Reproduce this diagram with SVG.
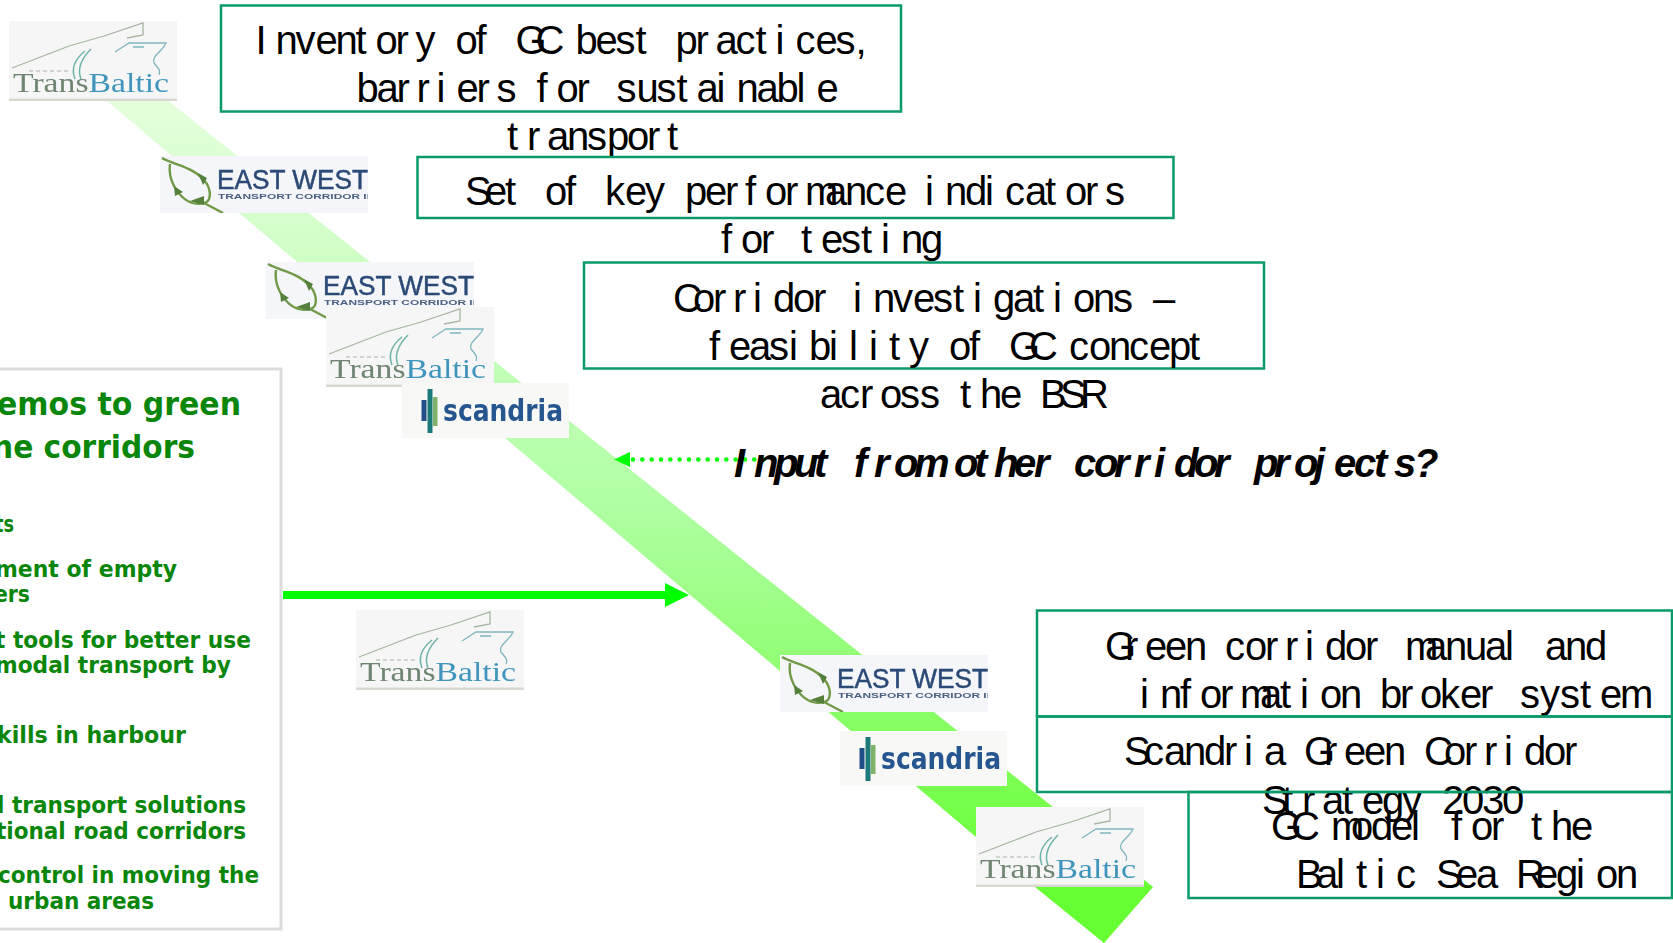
<svg xmlns="http://www.w3.org/2000/svg" width="1673" height="943" viewBox="0 0 1673 943">
<style>
.box{fill:none;stroke:#0a9a6c;stroke-width:2.5}
.t{font-family:"Liberation Sans Narrow","Liberation Sans",sans-serif;font-size:40px;fill:#000}
.ti{font-family:"Liberation Sans Narrow","Liberation Sans",sans-serif;font-size:40px;fill:#000;font-weight:bold;font-style:italic}
.h{font-family:"DejaVu Sans",sans-serif;font-weight:bold;font-size:32px;fill:#0a860a}
.s{font-family:"DejaVu Sans",sans-serif;font-weight:bold;font-size:23px;fill:#0a860a}
.tb{font-family:"Liberation Serif",serif;font-size:28px;stroke-width:.3}
.ew1{font-family:"Liberation Sans",sans-serif;font-size:27px;fill:#2c4a76;stroke:#2c4a76;stroke-width:.5}
.ew2{font-family:"Liberation Sans",sans-serif;font-size:7.5px;font-weight:bold;fill:#4a5f80}
.sc{font-family:"DejaVu Sans",sans-serif;font-size:30px;font-weight:bold;fill:#27568f}
.logo{filter:url(#soft)}
</style>
<defs>
<filter id="soft" x="0" y="0" width="100%" height="100%"><feGaussianBlur stdDeviation="0.45"/></filter>
<linearGradient id="bandFill" gradientUnits="userSpaceOnUse" x1="0" y1="100" x2="0" y2="890">
<stop offset="0" stop-color="#e4ffdc"/><stop offset="0.5" stop-color="#b2ffa6"/><stop offset="1" stop-color="#66ff33"/>
</linearGradient>
<g id="tbArt">
<rect width="168" height="80" fill="#f6f6f7"/>
<rect y="77.500" width="168" height="2.500" fill="#d9d9d2"/>
<path d="M3 47 L60 25 L95 15 L134 2 L134 14 L118 17" fill="none" stroke="#a7b5a2" stroke-width="1.300"/>
<path d="M106 31 L120 22 L157 22 C154 30 142 35 145 42 C150 48 152 50 150 54 M124 26 L135 26" fill="none" stroke="#7fb7bd" stroke-width="1.300"/>
<path d="M76 30 C66 38 62 48 66 58 M82 28 C72 38 68 48 72 58" fill="none" stroke="#6fb3a8" stroke-width="1.500"/>
<path d="M20 50 L60 50" fill="none" stroke="#a7b5a2" stroke-width="1" stroke-dasharray="4 3"/>
</g>
<g id="ewArt">
<rect width="208" height="57" fill="#f4f6f9"/>
<path d="M2 2 C16 10 34 10 47 28 C52 38 50 46 44 47 C32 50 22 44 14 30 C10 22 9 14 10 8 M44 47 L63 57" fill="none" stroke="#6f9a45" stroke-width="2.400"/>
<path d="M14 30 L23 36 L15 40 Z M38 17 L47 22 L43 29 Z M30 45 L44 40 L44 49 Z" fill="#55803a"/>
</g>
<g id="scArt">
<rect width="167" height="55" fill="#f8f8f6"/>
<rect x="19.500" y="17" width="5" height="21" fill="#24508a"/>
<rect x="25.500" y="6" width="5" height="44" fill="#1f7a78"/>
<rect x="31" y="14" width="4.500" height="29" fill="#7fb26a"/>
</g>
<clipPath id="ewClip"><rect width="208" height="57"/></clipPath>
</defs>

<g id="connectors">
<polygon id="corridor-band" points="100,95 161,95 1153,887 1104,943 1035,887" fill="url(#bandFill)"/>
<path d="M283 595H666" fill="none" stroke="#00ff00" stroke-width="8"/>
<polygon points="665,583 689,595 665,607" fill="#00ff00"/>
<path d="M633 459.500H768" fill="none" stroke="#00ff00" stroke-width="4.600" stroke-linecap="round" stroke-dasharray="0 9.330"/>
<polygon points="614,459.500 630,452 630,467" fill="#00ff00"/>
</g>

<g id="panel">
<rect x="-6" y="369" width="287" height="560" fill="#fff" stroke="#dcdcdc" stroke-width="3"/>
<text class="h" x="-3" y="415" textLength="244" lengthAdjust="spacingAndGlyphs">emos to green</text>
<text class="h" x="-8" y="458" textLength="203" lengthAdjust="spacingAndGlyphs">ne corridors</text>
<text class="s" x="-5" y="532" textLength="19" lengthAdjust="spacingAndGlyphs">ts</text>
<text class="s" x="-5" y="577" textLength="182" lengthAdjust="spacingAndGlyphs">ment of empty</text>
<text class="s" x="-6" y="602" textLength="36" lengthAdjust="spacingAndGlyphs">ers</text>
<text class="s" x="-5" y="648" textLength="256" lengthAdjust="spacingAndGlyphs">t tools for better use</text>
<text class="s" x="-5" y="673" textLength="236" lengthAdjust="spacingAndGlyphs">modal transport by</text>
<text class="s" x="-3" y="743" textLength="189" lengthAdjust="spacingAndGlyphs">kills in harbour</text>
<text class="s" x="-3" y="813" textLength="249" lengthAdjust="spacingAndGlyphs">l transport solutions</text>
<text class="s" x="-4" y="839" textLength="250" lengthAdjust="spacingAndGlyphs">tional road corridors</text>
<text class="s" x="-2" y="883" textLength="261" lengthAdjust="spacingAndGlyphs">control in moving the</text>
<text class="s" x="8" y="909" textLength="146" lengthAdjust="spacingAndGlyphs">urban areas</text>
</g>

<g id="logo-transbaltic-1" class="logo" transform="translate(9,21)"><use href="#tbArt"/><text class="tb" x="4" y="71" textLength="156" lengthAdjust="spacingAndGlyphs"><tspan fill="#6f8672">Trans</tspan><tspan fill="#3f95bc">Baltic</tspan></text></g>
<g id="logo-eastwest-1" class="logo" transform="translate(160,156)"><use href="#ewArt"/><g clip-path="url(#ewClip)"><text class="ew1" x="57" y="33" textLength="151" lengthAdjust="spacingAndGlyphs">EAST WEST</text><text class="ew2" x="58" y="43" textLength="152" lengthAdjust="spacingAndGlyphs">TRANSPORT CORRIDOR II</text></g></g>
<g id="logo-eastwest-2" class="logo" transform="translate(266,262)"><use href="#ewArt"/><g clip-path="url(#ewClip)"><text class="ew1" x="57" y="33" textLength="151" lengthAdjust="spacingAndGlyphs">EAST WEST</text><text class="ew2" x="58" y="43" textLength="152" lengthAdjust="spacingAndGlyphs">TRANSPORT CORRIDOR II</text></g></g>
<g id="logo-transbaltic-2" class="logo" transform="translate(326,307)"><use href="#tbArt"/><text class="tb" x="4" y="71" textLength="156" lengthAdjust="spacingAndGlyphs"><tspan fill="#6f8672">Trans</tspan><tspan fill="#3f95bc">Baltic</tspan></text></g>
<g id="logo-scandria-1" class="logo" transform="translate(402,383)"><use href="#scArt"/><text class="sc" x="41" y="38" textLength="120" lengthAdjust="spacingAndGlyphs">scandria</text></g>
<g id="logo-transbaltic-3" class="logo" transform="translate(356,610)"><use href="#tbArt"/><text class="tb" x="4" y="71" textLength="156" lengthAdjust="spacingAndGlyphs"><tspan fill="#6f8672">Trans</tspan><tspan fill="#3f95bc">Baltic</tspan></text></g>
<g id="logo-eastwest-3" class="logo" transform="translate(780,655)"><use href="#ewArt"/><g clip-path="url(#ewClip)"><text class="ew1" x="57" y="33" textLength="151" lengthAdjust="spacingAndGlyphs">EAST WEST</text><text class="ew2" x="58" y="43" textLength="152" lengthAdjust="spacingAndGlyphs">TRANSPORT CORRIDOR II</text></g></g>
<g id="logo-scandria-2" class="logo" transform="translate(840,731)"><use href="#scArt"/><text class="sc" x="41" y="38" textLength="120" lengthAdjust="spacingAndGlyphs">scandria</text></g>
<g id="logo-transbaltic-4" class="logo" transform="translate(976,807)"><use href="#tbArt"/><text class="tb" x="4" y="71" textLength="156" lengthAdjust="spacingAndGlyphs"><tspan fill="#6f8672">Trans</tspan><tspan fill="#3f95bc">Baltic</tspan></text></g>

<g id="node-inventory">
<rect class="box" x="221" y="5.500" width="680" height="106"/>
<text class="t" y="54" transform="translate(1.500,0)" x="254 274 294 314 334 354 374 394 414 434 454 474 494 514 534 554 574 594 614 634 654 674 694 714 734 754 774 794 814 834 854">Inventory of GC best practices,</text>
<text class="t" y="102" transform="translate(0.500,0)" x="356 376 396 416 436 456 476 496 516 536 556 576 596 616 636 656 676 696 716 736 756 776 796 816">barriers for sustainable</text>
<text class="t" y="150" x="507 527 547 567 587 607 627 647 667">transport</text>
</g>
<g id="node-kpi">
<rect class="box" x="417.500" y="157" width="756" height="61"/>
<text class="t" y="205" transform="translate(-1,0)" x="466 486 506 526 546 566 586 606 626 646 666 686 706 726 746 766 786 806 826 846 866 886 906 926 946 966 986 1006 1026 1046 1066 1086 1106">Set of key performance indicators</text>
<text class="t" y="253" x="721 741 761 781 801 821 841 861 881 901 921">for testing</text>
</g>
<g id="node-investigations">
<rect class="box" x="584" y="262.500" width="680" height="106"/>
<text class="t" y="312" x="673 693 713 733 753 773 793 813 833 853 873 893 913 933 953 973 993 1013 1033 1053 1073 1093 1113 1133 1153">Corridor investigations –</text>
<text class="t" y="360" x="709 729 749 769 789 809 829 849 869 889 909 929 949 969 989 1009 1029 1049 1069 1089 1109 1129 1149 1169 1189">feasibility of GC concept</text>
<text class="t" y="408" x="820 840 860 880 900 920 940 960 980 1000 1020 1040 1060 1080">across the BSR</text>
</g>
<g id="node-input">
<text class="ti" y="477" x="734 754 774 794 814 834 854 874 894 914 934 954 974 994 1014 1034 1054 1074 1094 1114 1134 1154 1174 1194 1214 1234 1254 1274 1294 1314 1334 1354 1374 1394 1414">Input from other corridor projects?</text>
</g>
<g id="node-manual">
<rect class="box" x="1037" y="610.500" width="635" height="106"/>
<text class="t" y="660" x="1105 1125 1145 1165 1185 1205 1225 1245 1265 1285 1305 1325 1345 1365 1385 1405 1425 1445 1465 1485 1505 1525 1545 1565 1585">Green corridor manual and</text>
<text class="t" y="708" transform="translate(1,0)" x="1139 1159 1179 1199 1219 1239 1259 1279 1299 1319 1339 1359 1379 1399 1419 1439 1459 1479 1499 1519 1539 1559 1579 1599 1619">information broker system</text>
</g>
<g id="node-scandria-strategy">
<rect class="box" x="1037" y="716.500" width="635" height="75.500"/>
<text class="t" y="765" transform="translate(-2,0)" x="1126 1146 1166 1186 1206 1226 1246 1266 1286 1306 1326 1346 1366 1386 1406 1426 1446 1466 1486 1506 1526 1546 1566">Scandria Green Corridor</text>
<text class="t" y="814" x="1262 1282 1302 1322 1342 1362 1382 1402 1422 1442 1462 1482 1502">Strategy 2030</text>
</g>
<g id="node-gc-model">
<rect class="box" x="1188.500" y="792" width="483.500" height="106"/>
<text class="t" y="840" x="1271 1291 1311 1331 1351 1371 1391 1411 1431 1451 1471 1491 1511 1531 1551 1571">GC model for the</text>
<text class="t" y="888" x="1296 1316 1336 1356 1376 1396 1416 1436 1456 1476 1496 1516 1536 1556 1576 1596 1616">Baltic Sea Region</text>
</g>
</svg>
